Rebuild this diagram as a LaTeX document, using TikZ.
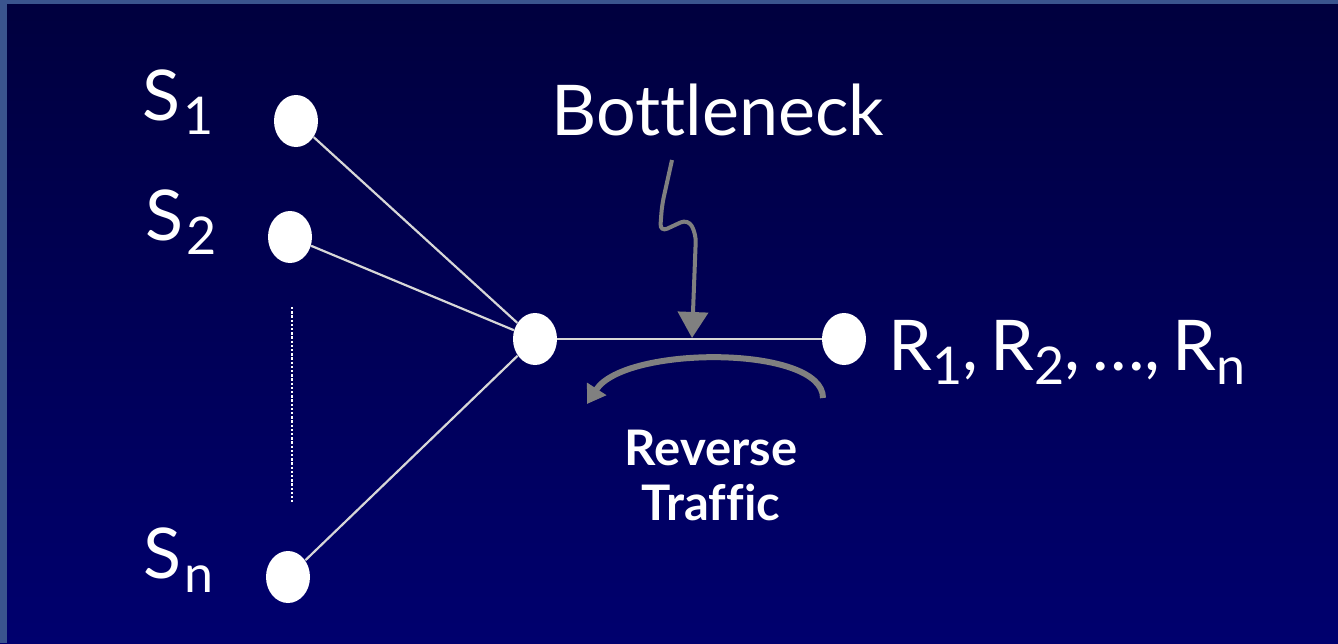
\documentclass[tikz,border=0pt]{standalone}
\usepackage{fontspec}
\setmainfont{Lato}[Ligatures=NoCommon]
\usetikzlibrary{shapes.geometric,arrows.meta}
\definecolor{bgtop}{RGB}{0,0,62}
\definecolor{bgbot}{RGB}{0,0,110}
\definecolor{framecol}{RGB}{58,84,142}
\definecolor{wirecol}{RGB}{215,215,215}
\definecolor{arrowgray}{RGB}{128,128,128}
\newcommand{\sbx}[1]{\raisebox{-7pt}{\fontsize{26}{26}\selectfont #1}}
\begin{document}
\begin{tikzpicture}[x=0.5pt,y=-0.5pt,
  host/.style={ellipse,fill=white,minimum width=22pt,minimum height=26pt,inner sep=0pt},
  lbl/.style={text=white,inner sep=0pt,font=\fontsize{35}{35}\selectfont},
  boldlbl/.style={text=white,inner sep=0pt,font=\bfseries\fontsize{24.5}{27.5}\selectfont,align=center},
  wire/.style={draw=wirecol,line width=1.1pt},
  dotline/.style={draw=white,line width=0.8pt,dash pattern=on 1.2pt off 0.9pt},
  bneck/.style={draw=arrowgray,line width=2pt,rounded corners=4pt,-{Triangle[width=15pt,length=13pt]}},
  revarrow/.style={draw=arrowgray,line width=3pt,-{Triangle[width=11pt,length=9pt]}}]
\useasboundingbox (0,0) rectangle (1338,643);
\shade[top color=bgtop,bottom color=bgbot] (0,0) rectangle (1338,643);
\fill[framecol] (0,0) rectangle (1338,4);
\fill[framecol] (0,0) rectangle (7,643);

% hosts
\node[host] (s1) at (296,121) {};
\node[host] (s2) at (290,237) {};
\node[host] (sn) at (288,577) {};
\node[host] (hub) at (535,339) {};
\node[host] (r) at (844,339) {};

% wires
\draw[wire] (s1) -- (hub);
\draw[wire] (s2) -- (hub);
\draw[wire] (sn) -- (hub);
\draw[wire] (hub) -- (r);

% dotted ellipsis line
\coordinate (dottop) at (292,307);
\coordinate (dotbot) at (292,502);
\draw[dotline] (dottop) -- (dotbot);

% labels
\node[lbl,anchor=base west] (ls1) at (142,120) {S\kern1.5pt\sbx{1}};
\node[lbl,anchor=base west] (ls2) at (145,240) {S\kern1.5pt\sbx{2}};
\node[lbl,anchor=base west] (lsn) at (143,578) {S\kern1.5pt\sbx{n}};
\node[lbl,anchor=base west] (lr) at (888,370) {R\sbx{1},\kern6pt R\sbx{2},\kern6pt…,\kern6pt R\sbx{n}};
\node[lbl,anchor=base] (bn) at (718,135) {Bottleneck};
\node[boldlbl,anchor=base] (rt) at (711,520) {Reverse\\Traffic};

% bottleneck arrow
\coordinate (btop) at (672,160);
\coordinate (btip) at (692,338);
\draw[bneck] (btop) -- (662,205) -- (660,232) -- (688,219) -- (696,234) -- (btip);

% reverse traffic arrow
\coordinate (rstart) at (823,398);
\coordinate (rend) at (587,404);
\draw[revarrow] (rstart) .. controls (823,345) and (625,345) .. (rend);
\end{tikzpicture}
\end{document}
